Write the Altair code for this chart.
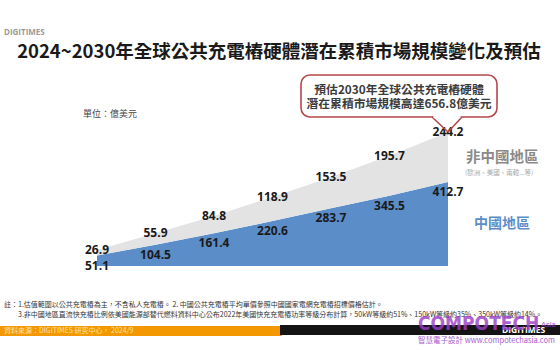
import altair as alt
import pandas as pd

# ---- data ----
years = [2024, 2025, 2026, 2027, 2028, 2029, 2030]
china = [51.1, 104.5, 161.4, 220.6, 283.7, 345.5, 412.7]
non_china = [26.9, 55.9, 84.8, 118.9, 153.5, 195.7, 244.2]
grid_values = [0, 133.6, 267.2, 400.8, 534.4, 668]
y_max = 668

df = pd.DataFrame({"year": years, "china": china, "non_china": non_china})
df["total"] = (df["china"] + df["non_china"]).round(1)

# ---- layout ----
W, H = 351, 136
OX, OY = 97, 130
FONT = "Open Sans, Noto Sans CJK TC"
CJK = "Noto Sans CJK TC"
BLUE = "#5b8ec8"
GREY = "#e3e3e3"
DARK = "#1a1a1a"
PURPLE = "#9c3cc6"

yscale = alt.Scale(domain=[0, y_max], nice=False, zero=True)
xscale = alt.Scale(domain=[2024, 2030], nice=False, zero=False)

base = alt.Chart(df)

china_area = base.mark_area(color=BLUE, opacity=1).encode(
    x=alt.X("year:Q", scale=xscale,
            axis=alt.Axis(values=years, format="d", title=None, grid=False,
                          domain=False, ticks=False, labelFont=FONT,
                          labelFontSize=12, labelFontWeight="bold",
                          labelColor=DARK, labelPadding=11)),
    y=alt.Y("china:Q", scale=yscale,
            axis=alt.Axis(values=grid_values, labels=False, ticks=False,
                          domain=False, title=None, grid=True,
                          gridColor="#e8e8e8", gridWidth=1)),
)

non_area = base.mark_area(color=GREY, opacity=1).encode(
    x=alt.X("year:Q", scale=xscale, axis=None),
    y=alt.Y("total:Q", scale=yscale, axis=None),
    y2="china:Q",
)

non_labels = base.mark_text(font=FONT, fontSize=12, fontWeight="bold",
                            color=DARK, baseline="middle", dy=0).encode(
    x=alt.X("year:Q", scale=xscale, axis=None),
    y=alt.Y("total:Q", scale=yscale, axis=None),
    text=alt.Text("non_china:Q", format=".1f"),
)

china_labels = base.mark_text(font=FONT, fontSize=12, fontWeight="bold",
                              color=DARK, baseline="middle", dy=10).encode(
    x=alt.X("year:Q", scale=xscale, axis=None),
    y=alt.Y("china:Q", scale=yscale, axis=None),
    text=alt.Text("china:Q", format=".1f"),
)

one = pd.DataFrame({"_": [0]})


def txt(s, xa, ya, size, color=DARK, weight="normal", align="left",
        font=CJK, baseline="middle", opacity=1):
    return alt.Chart(one).mark_text(
        text=s, fontSize=size, color=color, fontWeight=weight, align=align,
        font=font, baseline=baseline, opacity=opacity
    ).encode(x=alt.value(xa - OX), y=alt.value(ya - OY))


def rect(x1, x2, y1, y2, **kw):
    return alt.Chart(one).mark_rect(**kw).encode(
        x=alt.value(x1 - OX), x2=alt.value(x2 - OX),
        y=alt.value(y1 - OY), y2=alt.value(y2 - OY))


def rule(x1, y1, x2, y2, **kw):
    return alt.Chart(one).mark_rule(**kw).encode(
        x=alt.value(x1 - OX), x2=alt.value(x2 - OX),
        y=alt.value(y1 - OY), y2=alt.value(y2 - OY))


RED = "#b5474b"
layers = [
    china_area, non_area, non_labels, china_labels,
    # header
    txt("DIGITIMES", 4, 33, 8, color="#9a9a9a", weight="bold", font="Open Sans"),
    txt("2024~2030年全球公共充電樁硬體潛在累積市場規模變化及預估", 279, 52, 18.5,
        weight="bold", align="center"),
    txt("單位：億美元", 83, 114, 9, color="#444444"),
    # callout
    rect(301, 497, 75, 117, fill="white", stroke=RED, strokeWidth=1.6, cornerRadius=9),
    rule(432, 117, 448, 132, color=RED, strokeWidth=1.6),
    rule(448, 132, 462, 117, color=RED, strokeWidth=1.6),
    rule(433.5, 117, 460.5, 117, color="white", strokeWidth=2.4),
    txt("預估2030年全球公共充電樁硬體", 399, 89.5, 11.8, color="#3c3c3c",
        weight="bold", align="center"),
    txt("潛在累積市場規模高達656.8億美元", 399, 104, 11.8, color="#3c3c3c",
        weight="bold", align="center"),
    # series names
    txt("非中國地區", 466, 158, 14.5, color="#8a8a8a", weight="bold"),
    txt("(歐洲、美國、南韓...等)", 465, 173, 6.5, color="#a8a8a8"),
    txt("中國地區", 474, 224, 14, color=BLUE, weight="bold"),
    # notes
    txt("註：1.估值範圍以公共充電樁為主，不含私人充電樁。 2. 中國公共充電樁平均單價參照中國國家電網充電樁招標價格估計。",
        4, 305, 7, color="#333333"),
    txt("3.非中國地區直流快充樁比例依美國能源部替代燃料資料中心公布2022年美國快充充電樁功率等級分布計算，50kW等級約51%、150kW等級約35%、350kW等級約14%。",
        18, 314.5, 7, color="#333333"),
    # footer bars
    rect(0, 282, 326, 336, fill="#f39800"),
    rect(280, 560, 325, 335, fill="#141414"),
    txt("資料來源：DIGITIMES 研究中心， 2024/9", 4, 331, 7, color="#fde2b0"),
    txt("DIGITIMES", 502, 330, 8.5, color="white", weight="bold", font="Open Sans"),
    # watermark
    txt("COMPOTECH", 418, 330, 19, color=PURPLE, weight="bold",
        font="DejaVu Sans Condensed, Liberation Sans Narrow, DejaVu Sans",
        baseline="alphabetic", opacity=0.8),
    txt("Asia", 541, 325, 7.5, color=PURPLE, font="Liberation Sans", opacity=0.85),
    txt("智慧電子設計 www.compotechasia.com", 418, 341, 7.5, color=PURPLE, opacity=0.85),
]

chart = alt.layer(*layers).properties(
    width=W, height=H,
    autosize=alt.AutoSizeParams(type="none"),
    padding={"left": OX, "top": OY, "right": 560 - OX - W, "bottom": 350 - OY - H},
    background="white",
).configure_view(stroke=None)

chart.save("out.html", embed_options={"renderer": "svg", "actions": False})
